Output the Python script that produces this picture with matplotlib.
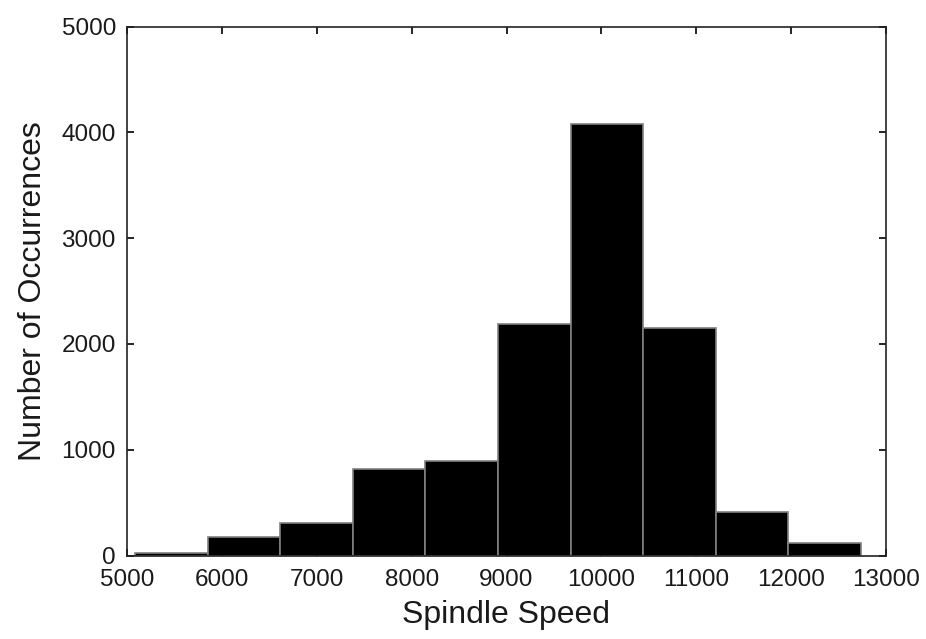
import matplotlib
matplotlib.use("Agg")
import matplotlib.pyplot as plt
import numpy as np

bin_edges = [5084, 5850, 6615, 7380, 8145, 8910, 9675, 10440, 11205, 11970, 12735]
counts = [20, 178, 310, 818, 896, 2189, 4083, 2151, 408, 115]
x_ticks = [5000, 6000, 7000, 8000, 9000, 10000, 11000, 12000, 13000]
y_ticks = [0, 1000, 2000, 3000, 4000, 5000]

plt.rcParams['font.family'] = ['Liberation Sans', 'DejaVu Sans']
text_color = '#1a1a1a'

fig = plt.figure(figsize=(9.26, 6.39), dpi=100)
ax = fig.add_axes([127/926, 1 - 555.5/639, (886 - 127)/926, (555.5 - 26.7)/639])

edges = np.array(bin_edges)
ax.bar(edges[:-1], counts, width=np.diff(edges), align='edge',
       color='black', edgecolor='#808080', linewidth=1.2)

ax.set_xlim(5000, 13000)
ax.set_ylim(0, 5000)
ax.set_xticks(x_ticks)
ax.set_yticks(y_ticks)
ax.tick_params(direction='in', length=5, width=1.2, top=True, right=True,
               labelsize=17.5, labelcolor=text_color)
ax.tick_params(axis='x', pad=10)
ax.tick_params(axis='y', pad=8)
for s in ax.spines.values():
    s.set_linewidth(1.2)
    s.set_color('#222222')
ax.set_xlabel('Spindle Speed', fontsize=23, labelpad=6, color=text_color)
ax.set_ylabel('Number of Occurrences', fontsize=23, labelpad=10, color=text_color)

fig.savefig('out.png', dpi=100)
